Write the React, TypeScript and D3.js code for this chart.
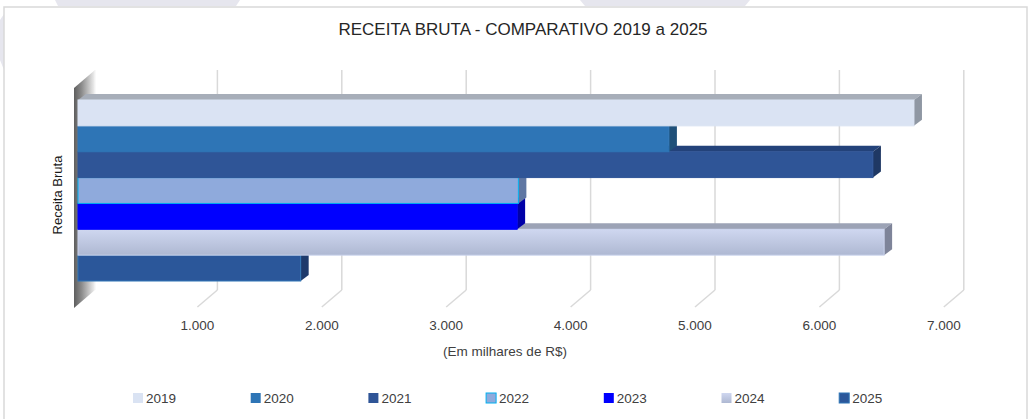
import React from 'react';
import * as d3 from 'd3';

const years = ['2019', '2020', '2021', '2022', '2023', '2024', '2025'];
const receita = [6720, 4750, 6390, 3540, 3530, 6480, 1790];
const ticks = [1000, 2000, 3000, 4000, 5000, 6000, 7000];

const front = ['#dae3f3', '#2e75b6', '#2f5597', '#8faadc', '#0000ff', '#c9d2ec', '#2b579a'];
const tops = ['#a7aeb9', '#245d91', '#23427a', '#7088b5', '#0000c8', '#9ca3b6', '#21457c'];
const sides = ['#8f97a3', '#1f5079', '#1f3864', '#5f77a3', '#0000a8', '#7e8499', '#1e3a6b'];
const strokes = ['#dae3f3', '#2e75b6', '#2f5597', '#00b0f0', '#0000ff', '#c9d2ec', '#2e75b6'];

const W = 1028;
const H = 419;
const FONT = '"Liberation Sans Narrow", "Liberation Sans", Arial, sans-serif';

export default function App() {
  const x = d3.scaleLinear().domain([0, 7000]).range([78, 78 + 7 * 124.4]);
  const y = d3.scaleBand().domain(years).range([100, 281]).padding(0);
  const bh = y.bandwidth();
  const dx = 8, dy = -6; // bar depth
  const back = { dx: 15, top: 70, bottom: 290 };
  const floorFront = { dx: -5, y: 307 };

  const order = years.map((_, i) => i).reverse(); // draw bottom bars first

  return (
    <svg width={W} height={H} style={{ position: 'absolute', left: 0, top: 0, background: '#fff' }}>
      <defs>
        <linearGradient id="wall" x1="0" x2="1" y1="0" y2="0">
          <stop offset="0" stopColor="#5e5e5e" />
          <stop offset="0.35" stopColor="#8a8a8a" />
          <stop offset="1" stopColor="#f2f2f2" />
        </linearGradient>
        <linearGradient id="g2024" x1="0" x2="0" y1="0" y2="1">
          <stop offset="0" stopColor="#cfd7f0" />
          <stop offset="1" stopColor="#aeb8d2" />
        </linearGradient>
      </defs>

      {/* watermark shapes behind */}
      <polygon points="55,0 240,0 236,6 58,6" fill="#e6e6ee" />
      <polygon points="580,0 750,0 745,6 585,6" fill="#e6e6ee" />
      <polygon points="0,20 4,14 4,70 0,60" fill="#e6e6ee" />

      <rect x={4} y={7} width={1023} height={420} fill="#fff" stroke="#d9d9d9" strokeWidth={1.5} />

      <text x={523} y={35} textAnchor="middle" fontFamily={FONT} fontSize={17} fill="#262626">
        RECEITA BRUTA - COMPARATIVO 2019 a 2025
      </text>

      {/* gridlines: back wall verticals + floor diagonals */}
      {ticks.map(t => {
        const bx = x(t) + back.dx;
        const fx = x(t) + floorFront.dx;
        return (
          <g key={t}>
            <line x1={bx} x2={bx} y1={back.top} y2={back.bottom} stroke="#d9d9d9" strokeWidth={1.5} />
            <line x1={bx} x2={fx} y1={back.bottom} y2={floorFront.y} stroke="#d9d9d9" strokeWidth={1.5} />
            <text x={fx} y={330} textAnchor="middle" fontFamily={FONT} fontSize={13.5} fill="#404040">
              {d3.format(',')(t).replace(/,/g, '.')}
            </text>
          </g>
        );
      })}

      {/* side wall */}
      <polygon points="74,88 95,70 95,290 74,308" fill="url(#wall)" />
      <line x1={95} x2={95} y1={70} y2={290} stroke="#f4f4f4" strokeWidth={1} />

      {/* bars */}
      {order.map(i => {
        const y0 = y(years[i]) as number;
        const x0 = x(0);
        const x1 = x(receita[i]);
        const fill = years[i] === '2024' ? 'url(#g2024)' : front[i];
        return (
          <g key={years[i]}>
            <polygon
              points={`${x0},${y0} ${x0 + dx},${y0 + dy} ${x1 + dx},${y0 + dy} ${x1},${y0}`}
              fill={tops[i]}
            />
            <polygon
              points={`${x1},${y0} ${x1 + dx},${y0 + dy} ${x1 + dx},${y0 + bh + dy} ${x1},${y0 + bh}`}
              fill={sides[i]}
            />
            <rect x={x0} y={y0} width={x1 - x0} height={bh} fill={fill} stroke={strokes[i]} strokeWidth={1} />
          </g>
        );
      })}

      <text x={505} y={356} textAnchor="middle" fontFamily={FONT} fontSize={13.5} fill="#404040">
        (Em milhares de R$)
      </text>

      <text
        transform="translate(62,195) rotate(-90)"
        textAnchor="middle"
        fontFamily='"Liberation Sans", Arial, sans-serif'
        fontSize={13}
        fill="#1a1a1a"
      >
        Receita Bruta
      </text>

      {/* legend */}
      {years.map((yr, i) => {
        const lx = 133 + i * 117.7;
        return (
          <g key={yr}>
            <rect x={lx} y={393} width={10} height={10} fill={i === 5 ? 'url(#g2024)' : front[i]} stroke={strokes[i]} strokeWidth={i === 3 || i === 6 ? 1 : 0} />
            <text x={lx + 13} y={403} fontFamily={FONT} fontSize={13.5} fill="#404040">{yr}</text>
          </g>
        );
      })}
    </svg>
  );
}
